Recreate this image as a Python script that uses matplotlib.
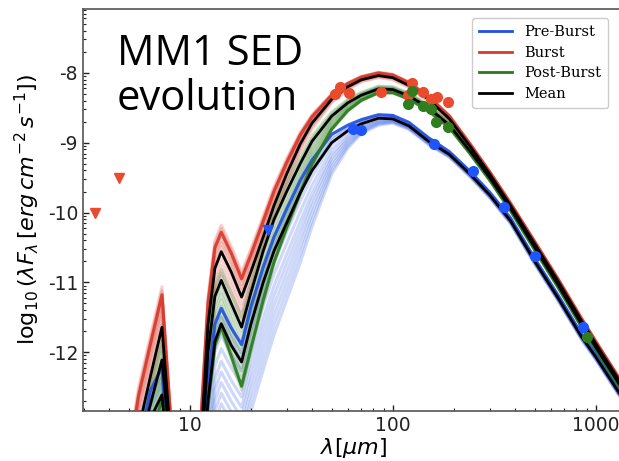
import numpy as np
import matplotlib
matplotlib.use("Agg")
import matplotlib.pyplot as plt
from matplotlib.ticker import FixedLocator, NullFormatter
from matplotlib.lines import Line2D

# ---------------- data ----------------
LAM = [5.0, 5.6, 6.4, 7.3, 8.1, 8.6, 11.0, 11.4, 12.3, 13.3, 14.3, 16.0, 18.0,
       20.0, 23.0, 26.0, 30.0, 35.0, 40.0, 50.0, 60.0, 70.0, 85.0, 100.0,
       120.0, 150.0, 190.0, 240.0, 300.0, 380.0, 500.0, 650.0, 850.0, 1000.0, 1300.0]

burst_mean = [-14, -13.1, -12.35, -11.64, -13.3, -14, -14, -13.2, -11.6, -10.8, -10.56,
              -10.85, -11.21, -10.85, -10.35, -9.9, -9.45, -9.02, -8.72, -8.38, -8.20,
              -8.10, -8.04, -8.07, -8.18, -8.38, -8.66, -9.05, -9.45, -9.90, -10.45,
              -10.98, -11.55, -11.88, -12.40]
post_mean = [-14, -13.4, -12.75, -12.11, -13.5, -14, -14, -13.5, -12.0, -11.2, -10.97,
             -11.3, -11.64, -11.15, -10.55, -10.1, -9.7, -9.3, -8.98, -8.62, -8.43,
             -8.32, -8.23, -8.24, -8.33, -8.50, -8.75, -9.12, -9.50, -9.94, -10.50,
             -11.03, -11.60, -11.93, -12.45]
pre_mean = [-14, -13.8, -12.95, -12.61, -14, -14, -14, -14, -12.7, -11.85, -11.59,
            -11.9, -12.14, -11.6, -11.0, -10.55, -10.15, -9.72, -9.4, -9.0, -8.83,
            -8.73, -8.65, -8.66, -8.76, -8.98, -9.17, -9.45, -9.75, -10.12, -10.70,
            -11.22, -11.78, -12.07, -12.58]

# spread of the individual model fits around each mean (upper / lower offsets)
burst_hi = [0.6, 0.6, 0.58, 0.58, 0.3, 0.3, 0.3, 0.4, 0.4, 0.4, 0.38, 0.37, 0.36, 0.33,
            0.3, 0.27, 0.22, 0.17, 0.12, 0.08, 0.06, 0.05, 0.05, 0.05, 0.05, 0.05, 0.05,
            0.04, 0.04, 0.04, 0.04, 0.04, 0.04, 0.04, 0.04]
burst_lo = [-0.2, -0.2, -0.2, -0.2, 0, 0, 0, -0.3, -0.3, -0.3, -0.3, -0.3, -0.3, -0.25,
            -0.2, -0.18, -0.15, -0.1, -0.08, -0.05, -0.04, -0.03, -0.03, -0.03, -0.03,
            -0.03, -0.03, -0.03, -0.03, -0.03, -0.03, -0.03, -0.03, -0.03, -0.03]
post_hi = [0.3, 0.3, 0.3, 0.3, 0, 0, 0, 0.15, 0.15, 0.15, 0.15, 0.15, 0.15, 0.15, 0.15,
           0.13, 0.12, 0.1, 0.08, 0.06, 0.05, 0.04, 0.04, 0.04, 0.04, 0.04, 0.04, 0.03,
           0.03, 0.03, 0.03, 0.03, 0.03, 0.03, 0.03]
post_lo = [-0.6, -0.6, -0.6, -0.6, 0, 0, 0, -0.8, -0.8, -0.75, -0.71, -0.8, -0.9, -0.85,
           -0.75, -0.65, -0.55, -0.45, -0.35, -0.2, -0.12, -0.08, -0.06, -0.05, -0.05,
           -0.05, -0.04, -0.04, -0.04, -0.04, -0.04, -0.04, -0.04, -0.04, -0.04]
pre_hi = [0.4, 0.4, 0.4, 0.4, 0, 0, 0, 0.3, 0.3, 0.25, 0.22, 0.25, 0.25, 0.25, 0.22, 0.2,
          0.2, 0.18, 0.15, 0.12, 0.08, 0.06, 0.05, 0.05, 0.05, 0.05, 0.04, 0.04, 0.04,
          0.04, 0.04, 0.04, 0.04, 0.04, 0.04]
pre_lo = [-0.6, -0.6, -0.6, -0.6, 0, 0, 0, -1.3, -1.3, -1.3, -1.3, -1.25, -1.25, -1.25,
          -1.25, -1.2, -1.1, -1.0, -0.8, -0.45, -0.25, -0.14, -0.1, -0.06, -0.05, -0.05,
          -0.04, -0.04, -0.04, -0.04, -0.04, -0.04, -0.04, -0.04, -0.04]

# relative position of each individual model within the spread (0 = lower, 1 = upper)
burst_models = [1.0, 0.93, 0.86, 0.8, 0.72, 0.64, 0.55, 0.45, 0.3, 0.15, 0.0]
post_models = [1.0, 0.9, 0.8, 0.7, 0.6, 0.5, 0.4, 0.3, 0.2, 0.1, 0.0]
pre_models = [1.0, 0.92, 0.85, 0.75, 0.62, 0.5, 0.4, 0.3, 0.2, 0.1, 0.0]
burst_best, post_best, pre_best = 0.85, 0.05, 1.0

# photometry
burst_pts_lam = [51.7, 54.8, 60.7, 87.3, 118.6, 124.0, 140.6, 153.9, 164.8, 186.6]
burst_pts_val = [-8.31, -8.21, -8.29, -8.28, -8.32, -8.14, -8.28, -8.38, -8.35, -8.42]
post_pts_lam = [118.6, 124.0, 140.6, 153.9, 163.0, 186.6, 903.0]
post_pts_val = [-8.44, -8.26, -8.48, -8.52, -8.71, -8.77, -11.78]
pre_pts_lam = [63.5, 69.5, 159.0, 247.8, 352.0, 501.0, 863.0]
pre_pts_val = [-8.81, -8.82, -9.02, -9.41, -9.92, -10.62, -11.64]
burst_lim_lam = [3.4, 4.5]
burst_lim_val = [-10.01, -9.50]
pre_lim_lam = [24.2]
pre_lim_val = [-10.25]

C_RED, C_GREEN, C_BLUE = "#d8392b", "#2a7a1c", "#2350e0"
P_RED, P_GREEN, P_BLUE = "#ea4a2e", "#2f7d1f", "#1f55ff"

# ---------------- figure ----------------
fig = plt.figure(figsize=(6.19, 4.61), dpi=100)
ax = fig.add_axes([0.134, 0.1085, 0.8756, 0.873])

lam = np.array(LAM)
groups = [
    (pre_mean, pre_hi, pre_lo, pre_models, pre_best, C_BLUE),
    (burst_mean, burst_hi, burst_lo, burst_models, burst_best, C_RED),
    (post_mean, post_hi, post_lo, post_models, post_best, C_GREEN),
]
for mean, hi, lo, models, best, col in groups:
    m = np.array(mean); h = m + np.array(hi); l = m + np.array(lo)
    for f in models:
        ax.plot(lam, l + f * (h - l), color=col, lw=2.2, alpha=0.22, zorder=2,
                solid_joinstyle="round")
for mean, hi, lo, models, best, col in groups:
    m = np.array(mean); h = m + np.array(hi); l = m + np.array(lo)
    ax.plot(lam, l + best * (h - l), color=col, lw=2.2, alpha=0.9, zorder=3)
for mean, hi, lo, models, best, col in groups:
    ax.plot(lam, mean, color="black", lw=2.0, zorder=4)

ax.plot(burst_pts_lam, burst_pts_val, "o", color=P_RED, ms=7, zorder=6)
ax.plot(post_pts_lam, post_pts_val, "o", color=P_GREEN, ms=7, zorder=6)
ax.plot(pre_pts_lam, pre_pts_val, "o", color=P_BLUE, ms=7, zorder=6)
ax.plot(burst_lim_lam, burst_lim_val, "v", color=P_RED, ms=6.5, zorder=6)
ax.plot(pre_lim_lam, pre_lim_val, "v", color=P_BLUE, ms=6.5, zorder=6)

ax.set_xscale("log")
ax.set_xlim(2.98, 1390)
ax.set_ylim(-12.84, -7.08)
ax.set_xticks([10, 100, 1000])
ax.set_xticklabels(["10", "100", "1000"])
ax.set_yticks([-8, -9, -10, -11, -12])
ax.set_yticklabels(["-8", "-9", "-10", "-11", "-12"])
yminor = [n + np.log10(k) for n in range(-13, -7) for k in range(2, 10)]
ax.yaxis.set_minor_locator(FixedLocator(yminor))
ax.yaxis.set_minor_formatter(NullFormatter())
ax.tick_params(which="both", direction="in", labelsize=13.5, colors="#222222")
ax.tick_params(which="major", length=4, width=1)
ax.tick_params(which="minor", length=2.5, width=0.8)
for s in ax.spines.values():
    s.set_color("#555555")
    s.set_linewidth(1.2)

ax.set_xlabel(r"$\lambda[\mu m]$", fontsize=16, labelpad=1)
ax.set_ylabel(r"log$_{10}\,(\lambda F_\lambda\,[erg\,cm^{-2}\,s^{-1}])$", fontsize=16, labelpad=4)

handles = [Line2D([], [], color=C_BLUE, lw=2), Line2D([], [], color=C_RED, lw=2),
           Line2D([], [], color=C_GREEN, lw=2), Line2D([], [], color="black", lw=2)]
leg = ax.legend(handles, ["Pre-Burst", "Burst", "Post-Burst", "Mean"], loc="upper right",
                prop={"family": "DejaVu Serif", "size": 10.5}, handlelength=2.3,
                borderpad=0.5, labelspacing=0.45, framealpha=1, edgecolor="#cccccc",
                bbox_to_anchor=(0.983, 0.995))

fig.text(117 / 619, 1 - 33 / 461, "MM1 SED\nevolution", fontsize=30, family="Open Sans",
         va="top", ha="left", linespacing=1.1, zorder=10)

fig.savefig("out.png", dpi=100)
